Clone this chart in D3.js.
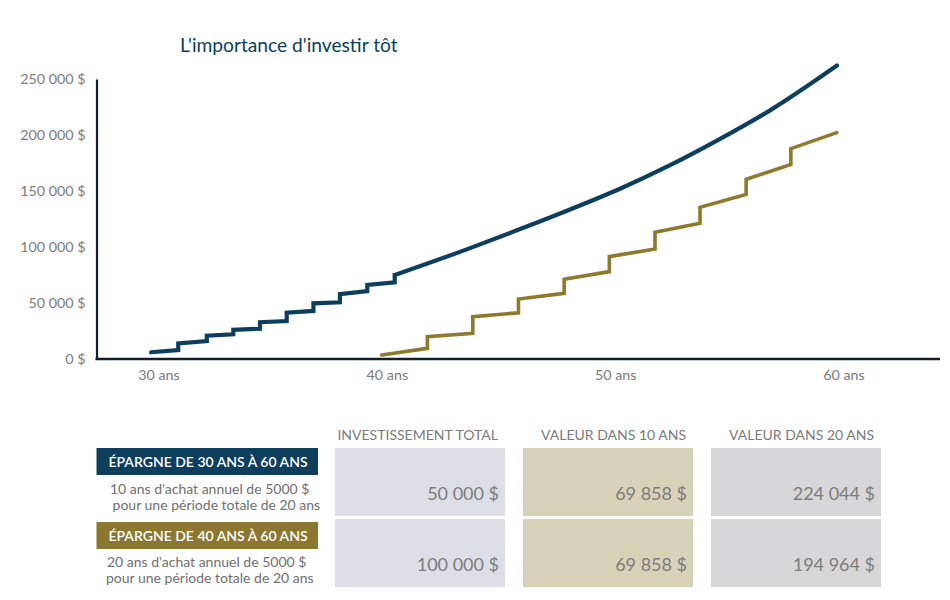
<!DOCTYPE html>
<html>
<head>
<meta charset="utf-8">
<script src="https://cdn.jsdelivr.net/npm/d3@7"></script>
<style>
  html, body { margin: 0; padding: 0; background: #ffffff; }
  svg { display: block; font-family: Lato, "Noto Sans", sans-serif; }
</style>
</head>
<body>
<svg id="chart" width="950" height="600"></svg>
<script>
// ---------- DATA ----------
const chartTitle = "L'importance d'investir tôt";
const yTicks = [0, 50000, 100000, 150000, 200000, 250000];
const xTicks = [30, 40, 50, 60];

// Blue series (épargne de 30 ans à 60 ans): stepped part then compounding curve
const blueStepAges   = [29.96, 31.15, 31.15, 32.40, 32.40, 33.56, 33.56, 34.73, 34.73, 35.90, 35.90, 37.07, 37.07, 38.23, 38.23, 39.43, 39.43, 40.63, 40.63];
const blueStepValues = [6000, 8000, 14000, 16000, 20800, 22000, 26000, 27000, 32800, 33900, 41300, 42900, 49700, 50600, 58000, 60700, 66100, 68500, 75000];
const blueCurveAges   = [40.63, 43.93, 46.12, 48.31, 50.50, 52.69, 54.88, 57.07, 60.00];
const blueCurveValues = [75000, 99000, 116000, 133500, 152000, 173000, 196500, 222000, 262000];

// Gold series (épargne de 40 ans à 60 ans)
const goldAges   = [40.06, 42.06, 42.06, 44.05, 44.05, 46.05, 46.05, 48.05, 48.05, 50.03, 50.03, 52.03, 52.03, 54.00, 54.00, 56.02, 56.02, 57.98, 57.98, 59.99];
const goldValues = [3600, 9500, 19900, 22900, 37800, 41300, 53600, 58600, 71200, 78000, 91400, 98200, 113100, 121100, 135400, 147000, 160400, 173800, 187800, 202100];

// Table
const colHeaders = ["INVESTISSEMENT TOTAL", "VALEUR DANS 10 ANS", "VALEUR DANS 20 ANS"];
const rowTitles = ["ÉPARGNE DE 30 ANS À 60 ANS", "ÉPARGNE DE 40 ANS À 60 ANS"];
const rowDescLine1 = ["10 ans d'achat annuel de 5000 $", "20 ans d'achat annuel de 5000 $"];
const rowDescLine2 = [" pour une période totale de 20 ans", "pour une période totale de 20 ans"];
const investTotal = [50000, 100000];
const valeur10 = [69858, 69858];
const valeur20 = [224044, 194964];

// ---------- STYLE ----------
const blue = "#0c3f5d";
const gold = "#8d7a2f";
const boxBlue = "#0d3e5b";
const boxGold = "#8b772f";
const cellFills = ["#dcdfe6", "#d8d2b9", "#d7d6d8"];
const grey = "#7b7b7b";

const svg = d3.select("#chart");
const locale = d3.formatLocale({ decimal: ",", thousands: "\u00a0", grouping: [3], currency: ["", "\u00a0$"] });
const fmt = v => locale.format(",.0f")(v) + "\u00a0$";

// ---------- SCALES ----------
const x = d3.scaleLinear().domain([30, 60]).range([152, 837]);
const y = d3.scaleLinear().domain([0, 250000]).range([359, 79]);

// Title
svg.append("text")
  .attr("x", 180).attr("y", 52)
  .attr("font-size", 19.2)
  .attr("fill", "#0d3f5c")
  .text(chartTitle);

// Y axis
const yAxis = svg.append("g")
  .attr("transform", "translate(96.5,0)")
  .call(d3.axisLeft(y).tickValues(yTicks).tickSize(0).tickPadding(11).tickFormat(fmt));
yAxis.select(".domain").attr("stroke", "#13202a").attr("stroke-width", 2.2);
yAxis.selectAll("text").attr("font-family", "Lato").attr("font-size", 14.3).attr("fill", grey);

// X axis
const xAxis = svg.append("g")
  .attr("transform", "translate(0,359)")
  .call(d3.axisBottom(x).tickValues(xTicks).tickSize(0).tickPadding(11).tickFormat(d => d + " ans"));
xAxis.select(".domain").remove();
xAxis.selectAll("text").attr("font-family", "Lato").attr("font-size", 14.3).attr("fill", grey).attr("dx", 6.5);
svg.append("line")
  .attr("x1", 95.5).attr("x2", 940).attr("y1", 359).attr("y2", 359)
  .attr("stroke", "#13202a").attr("stroke-width", 2.4);

// Lines
const lineLinear = d3.line().x(d => x(d[0])).y(d => y(d[1]));
const lineSmooth = d3.line().x(d => x(d[0])).y(d => y(d[1])).curve(d3.curveMonotoneX);

const bluePath = lineLinear(blueStepAges.map((a, i) => [a, blueStepValues[i]])) +
  lineSmooth(blueCurveAges.map((a, i) => [a, blueCurveValues[i]])).replace(/^M[^LC]*/, "L" + x(blueCurveAges[0]) + "," + y(blueCurveValues[0]));

svg.append("path")
  .attr("d", bluePath)
  .attr("fill", "none").attr("stroke", blue).attr("stroke-width", 4.2)
  .attr("stroke-linecap", "round").attr("stroke-linejoin", "miter");

svg.append("path")
  .attr("d", lineLinear(goldAges.map((a, i) => [a, goldValues[i]])))
  .attr("fill", "none").attr("stroke", gold).attr("stroke-width", 3.6)
  .attr("stroke-linecap", "round").attr("stroke-linejoin", "miter");

// ---------- TABLE ----------
const colX = [335, 523, 711];
const colW = 170;
const rowY = [448, 519];
const rowH = 68;
const valueCols = [investTotal, valeur10, valeur20];

colHeaders.forEach((h, c) => {
  svg.append("text")
    .attr("x", colX[c] + colW - 7).attr("y", 440)
    .attr("text-anchor", "end")
    .attr("font-size", 14).attr("fill", grey)
    .text(h);
});

rowY.forEach((ry, r) => {
  valueCols.forEach((vals, c) => {
    svg.append("rect")
      .attr("x", colX[c]).attr("y", ry).attr("width", colW).attr("height", rowH)
      .attr("fill", cellFills[c]);
    svg.append("text")
      .attr("x", colX[c] + colW - 6).attr("y", ry + 52)
      .attr("text-anchor", "end")
      .attr("font-size", 18).attr("fill", "#7d7d7d")
      .text(fmt(vals[r]));
  });
});

// Row labels
const boxY = [448, 522];
const boxColors = [boxBlue, boxGold];
rowTitles.forEach((t, r) => {
  svg.append("rect")
    .attr("x", 96.5).attr("y", boxY[r]).attr("width", 221.5).attr("height", 27)
    .attr("fill", boxColors[r]);
  svg.append("text")
    .attr("x", 208).attr("y", boxY[r] + 19)
    .attr("text-anchor", "middle")
    .attr("font-size", 14).attr("font-weight", 600).attr("fill", "#ffffff")
    .text(t);
});
const descX = [110, 107];
const descY1 = [494, 567];
rowDescLine1.forEach((t, r) => {
  svg.append("text")
    .attr("x", descX[r]).attr("y", descY1[r])
    .attr("font-size", 14).attr("fill", "#6f6f6f")
    .text(t);
  svg.append("text")
    .attr("x", descX[r] - 1).attr("y", descY1[r] + 16)
    .attr("font-size", 14).attr("fill", "#6f6f6f")
    .attr("xml:space", "preserve")
    .style("white-space", "pre")
    .text(rowDescLine2[r]);
});
</script>
</body>
</html>
